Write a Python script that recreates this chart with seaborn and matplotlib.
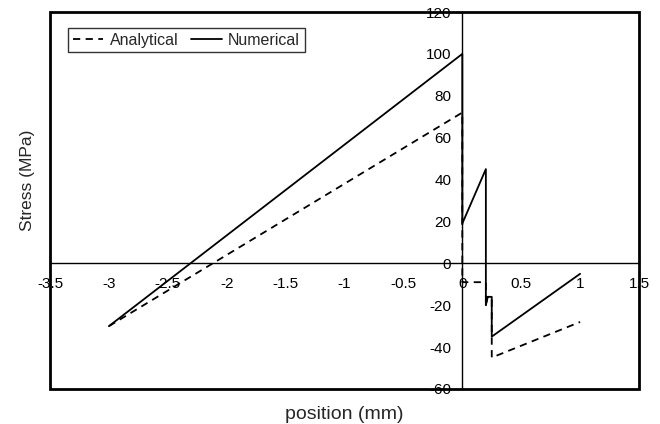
import matplotlib
matplotlib.use('Agg')
from matplotlib import pyplot as plt
from matplotlib.patches import Rectangle
import pandas as pd
import seaborn as sns

# stress profile along the position
ana_x = [-3, 0, 0, 0.2, 0.2, 0.215, 0.25, 0.25, 1]
ana_y = [-30, 72, -9, -9, -20, -16, -16, -45, -28]
num_x = [-3, 0, 0, 0.2, 0.2, 0.215, 0.25, 0.25, 1]
num_y = [-30, 100, 19, 45, -20, -16, -16, -35, -5]

x_ticks = [-3.5, -3, -2.5, -2, -1.5, -1, -0.5, 0, 0.5, 1, 1.5]
x_labels = ['-3.5', '-3', '-2.5', '-2', '-1.5', '-1', '-0.5', '0', '0.5', '1', '1.5']
y_ticks = [-60, -40, -20, 0, 20, 40, 60, 80, 100, 120]
y_labels = ['-60', '-40', '-20', '0', '20', '40', '60', '80', '100', '120']

ana = pd.DataFrame({'position': ana_x, 'stress': ana_y})
num = pd.DataFrame({'position': num_x, 'stress': num_y})

sns.set_style('white')
plt.rcParams['font.family'] = ['Liberation Sans', 'DejaVu Sans']

fig = plt.figure(figsize=(6.6, 4.24), dpi=100)
ax = fig.add_axes([50 / 660, 35 / 424, 589 / 660, 377 / 424])

sns.lineplot(data=ana, x='position', y='stress', sort=False, estimator=None,
             color='black', linestyle=(0, (4, 3)), linewidth=1.3, ax=ax,
             label='Analytical')
sns.lineplot(data=num, x='position', y='stress', sort=False, estimator=None,
             color='black', linewidth=1.3, ax=ax, label='Numerical')

ax.set_xlim(-3.5, 1.5)
ax.set_ylim(-60, 120)

# axes crossing at zero, excel style
ax.spines['left'].set_position(('data', 0))
ax.spines['bottom'].set_position(('data', 0))
for s in ['top', 'right']:
    ax.spines[s].set_visible(False)
for s in ['left', 'bottom']:
    ax.spines[s].set_linewidth(1.0)
    ax.spines[s].set_color('black')
ax.add_patch(Rectangle((0, 0), 1, 1, transform=ax.transAxes, fill=False,
                       lw=2.0, ec='black', clip_on=False, zorder=5))

ax.set_xticks(x_ticks, x_labels)
ax.set_yticks(y_ticks, y_labels)
ax.tick_params(axis='both', direction='out', length=3, width=1.0,
               labelsize=11, colors='black')
ax.tick_params(axis='x', pad=7)
ax.tick_params(axis='y', pad=5)

ax.set_xlabel('position (mm)', fontsize=14)
ax.set_ylabel('Stress (MPa)', fontsize=12.5)
ax.xaxis.set_label_coords(0.5, -0.046)
ax.yaxis.set_label_coords(-0.025, 0.554)

leg = ax.legend(loc='upper left', bbox_to_anchor=(0.031, 0.958), ncol=2,
                frameon=True, fancybox=False, edgecolor='black', fontsize=11.5,
                handlelength=1.9, columnspacing=0.8, borderaxespad=0,
                borderpad=0.3, handletextpad=0.4)
leg.get_frame().set_linewidth(1.0)

fig.savefig('out.png', dpi=100)
